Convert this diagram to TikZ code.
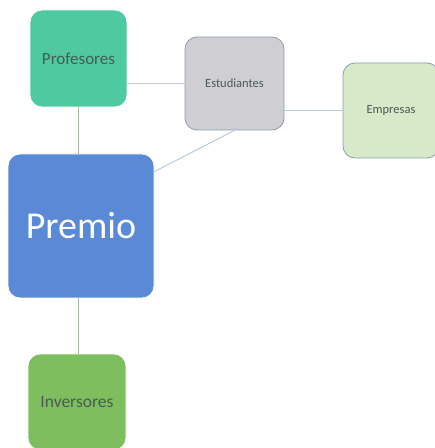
\documentclass[tikz,border=0pt]{standalone}
\usepackage{fontspec}
\setmainfont{Carlito}
\usetikzlibrary{shapes,arrows}
\usetikzlibrary{calc}
\definecolor{profcol}{HTML}{4FC9A0}
\definecolor{estcol}{HTML}{CFCFD3}
\definecolor{empcol}{HTML}{D6E9C9}
\definecolor{premcol}{HTML}{5A8AD5}
\definecolor{invcol}{HTML}{7EBE5F}
\definecolor{txtcol}{HTML}{4A5A52}
\definecolor{bordecol}{HTML}{8C9DB3}
\definecolor{lineagris}{HTML}{C8CDD2}
\definecolor{lineaazul}{HTML}{B8CCE0}
\definecolor{lineaverde}{HTML}{A8BE98}
\tikzset{
  caja/.style={rounded corners=12pt, inner sep=0pt, line width=0.8pt, align=center},
  enlace/.style={line width=1pt},
}

\begin{document}
\begin{tikzpicture}[x=1pt,y=1pt]
        \clip (0,0) rectangle (435,448);
        \fill[white] (0,0) rectangle (435,448);
        % nodos
        \node[caja, fill=profcol, draw=white, minimum width=97pt, minimum height=97pt,
              text=txtcol, font=\fontsize{17}{20}\selectfont] (prof) at (78.5,389.5) {Profesores};
        \node[caja, fill=estcol, draw=bordecol, minimum width=99pt, minimum height=93pt,
              text=txtcol, font=\fontsize{12.5}{15}\selectfont] (est) at (234.5,364.5) {Estudiantes};
        \node[caja, fill=empcol, draw=bordecol, minimum width=96pt, minimum height=95pt,
              text=txtcol, font=\fontsize{12.5}{15}\selectfont] (emp) at (391,337.5) {Empresas};
        \node[caja, fill=premcol, draw=white, minimum width=146pt, minimum height=144pt,
              text=white, font=\fontsize{38}{42}\selectfont] (prem) at (81,222) {Premio};
        \node[caja, fill=invcol, draw=white, minimum width=98pt, minimum height=96pt,
              text=txtcol, font=\fontsize{17.5}{20}\selectfont] (inv) at (77,46) {Inversores};
        % enlaces
        \draw[enlace, draw=lineagris] (prof.east |- est.west) -- (est.west);
        \draw[enlace, draw=lineaverde] (prof.south) -- (prem.north -| prof.south);
        \draw[enlace, draw=lineaazul] (est.south) -- ([yshift=-18pt]prem.north east);
        \draw[enlace, draw=lineaazul] (est.east |- emp.west) -- (emp.west);
        \draw[enlace, draw=lineaverde] (prem.south -| prof.south) -- (inv.north -| prof.south);
    \end{tikzpicture}
\end{document}
